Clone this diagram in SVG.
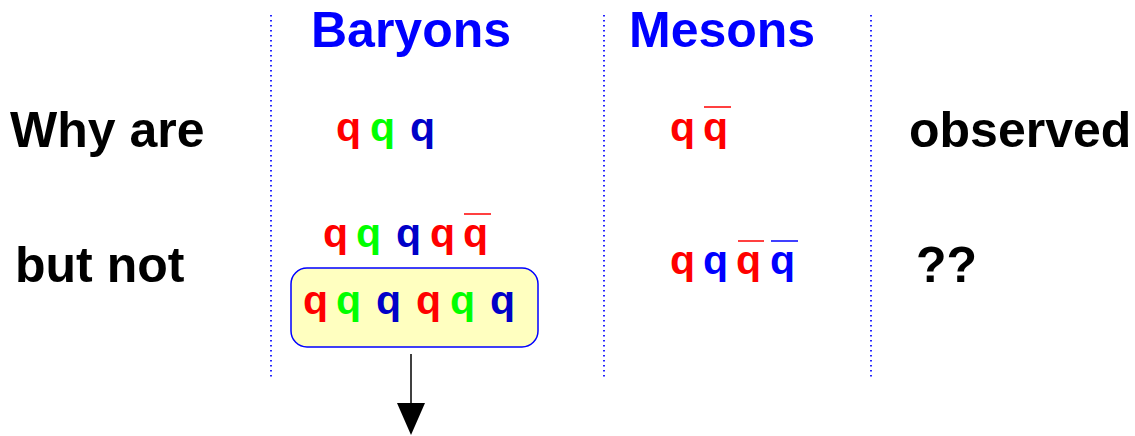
<svg xmlns="http://www.w3.org/2000/svg" width="1135" height="436" viewBox="0 0 1135 436">
<style>
.t{font-family:"Liberation Sans",Arial,sans-serif;font-weight:bold;font-size:50px}
.h{fill:#0000ff}
.k{fill:#000}
.q{font-family:"Liberation Sans",Arial,sans-serif;font-weight:bold;font-size:41px}
.r{fill:#ff0000}
.g{fill:#00ff00}
.b{fill:#0000c8}
.B{fill:#0000ff}
.div{stroke:#2222ff;stroke-width:2;stroke-dasharray:1.5 3.5;fill:none}
.bar{stroke-width:1.5}
</style>
<rect width="1135" height="436" fill="#fff"/>
<g id="dividers">
<line class="div" x1="271" y1="15" x2="271" y2="378"/>
<line class="div" x1="604" y1="15" x2="604" y2="378"/>
<line class="div" x1="871" y1="15" x2="871" y2="378"/>
</g>
<g id="headers">
<text class="t h" x="311" y="47">Baryons</text>
<text class="t h" x="629" y="47">Mesons</text>
</g>
<g id="labels">
<text class="t k" x="10" y="147">Why are</text>
<text class="t k" x="15" y="282">but not</text>
<text class="t k" x="909" y="147">observed</text>
<text class="t k" x="916" y="282">??</text>
</g>
<g id="baryon-qqq">
<text class="q r" x="336" y="141">q</text>
<text class="q g" x="370" y="141">q</text>
<text class="q b" x="410" y="141">q</text>
</g>
<g id="meson-qqbar">
<text class="q r" x="670" y="141">q</text>
<text class="q r" x="703" y="141">q</text>
<line class="bar" x1="704" y1="107" x2="731" y2="107" stroke="#ff0000"/>
</g>
<g id="pentaquark">
<text class="q r" x="323" y="247">q</text>
<text class="q g" x="356" y="247">q</text>
<text class="q b" x="396" y="247">q</text>
<text class="q r" x="430" y="247">q</text>
<text class="q r" x="463" y="247">q</text>
<line class="bar" x1="464" y1="214" x2="491" y2="214" stroke="#ff0000"/>
</g>
<g id="hexaquark">
<rect x="291" y="268" width="247" height="79" rx="16" ry="16" fill="#ffffc0" stroke="#0000ff" stroke-width="1.5"/>
<text class="q r" x="303" y="314">q</text>
<text class="q g" x="336" y="314">q</text>
<text class="q b" x="376" y="314">q</text>
<text class="q r" x="416" y="314">q</text>
<text class="q g" x="450" y="314">q</text>
<text class="q b" x="490" y="314">q</text>
</g>
<g id="tetraquark">
<text class="q r" x="670" y="274">q</text>
<text class="q B" x="703" y="274">q</text>
<text class="q r" x="736" y="274">q</text>
<text class="q B" x="770" y="274">q</text>
<line class="bar" x1="738" y1="241" x2="764" y2="241" stroke="#ff0000"/>
<line class="bar" x1="771" y1="241" x2="798" y2="241" stroke="#0000ff"/>
</g>
<g id="connectors">
<line x1="411" y1="354" x2="411" y2="404" stroke="#000" stroke-width="1.5"/>
<polygon points="397,403 425,403 411,435" fill="#000"/>
</g>
</svg>
